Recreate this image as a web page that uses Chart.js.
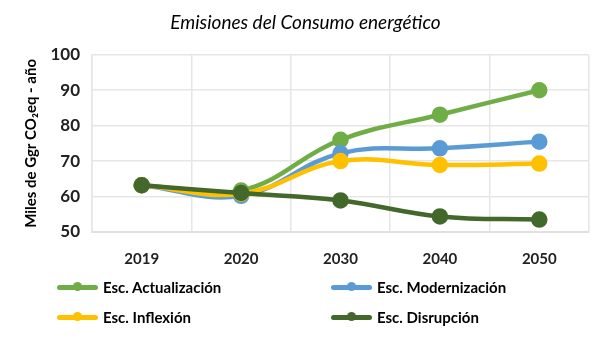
<!DOCTYPE html>
<html>
<head>
<meta charset="utf-8">
<script src="https://cdn.jsdelivr.net/npm/chart.js@4"></script>
<style>
  body { margin: 0; background: #fff; }
  #wrap { position: relative; width: 604px; height: 350px; }
  #legend {
    position: absolute; left: 57px; top: 277px; width: 540px;
    display: grid; grid-template-columns: 274px 260px; row-gap: 10px;
    font-family: Lato, "Liberation Sans", sans-serif; font-weight: bold; font-size: 15px; color: #000;
  }
  .item { display: flex; align-items: center; height: 20px; }
  .mark { position: relative; width: 41px; height: 10px; margin-right: 5px; }
  .mark .ln { position: absolute; left: 0; right: 0; top: 2.5px; height: 5px; border-radius: 2.5px; }
  .mark .dt { position: absolute; left: 16px; top: 0; width: 9px; height: 9px; border-radius: 50%; }
</style>
</head>
<body>
<div id="wrap">
  <canvas id="emisiones" width="604" height="350"></canvas>
  <div id="legend"></div>
</div>
<script>
var years = ["2019", "2020", "2030", "2040", "2050"];
var actualizacion = [63.2, 61.7, 76.0, 83.1, 90.0];
var modernizacion = [63.2, 60.2, 72.2, 73.6, 75.5];
var inflexion = [63.2, 60.8, 70.0, 68.9, 69.3];
var disrupcion = [63.2, 61.0, 58.9, 54.4, 53.5];

var series = [
    { label: "Esc. Actualización", data: actualizacion, color: "#70ad47", order: 4 },
    { label: "Esc. Modernización", data: modernizacion, color: "#5b9bd5", order: 3 },
    { label: "Esc. Inflexión", data: inflexion, color: "#ffc000", order: 2 },
    { label: "Esc. Disrupción", data: disrupcion, color: "#43682b", order: 1 }
];

var fontFam = "Lato, 'Liberation Sans', sans-serif";

new Chart("emisiones", {
    type: "line",
    data: {
        labels: years,
        datasets: series.map(function (s) {
            return {
                label: s.label,
                data: s.data,
                borderColor: s.color,
                backgroundColor: s.color,
                borderWidth: 4.5,
                pointRadius: 6,
                pointHoverRadius: 6,
                fill: false,
                tension: 0.4,
                order: s.order
            };
        })
    },
    options: {
        responsive: false,
        animation: false,
        layout: {
            padding: { top: 0, right: 15, bottom: 78, left: 22 }
        },
        plugins: {
            legend: { display: false },
            tooltip: { enabled: false },
            title: {
                display: true,
                text: "Emisiones del Consumo energético",
                color: "#000",
                font: { family: fontFam, size: 19, style: "italic", weight: "normal" },
                padding: { top: 11, bottom: 21 }
            }
        },
        scales: {
            x: {
                offset: true,
                grid: { offset: true, color: "#e6e6e6", lineWidth: 1.5, drawTicks: false },
                border: { color: "#e0e0e0", width: 2 },
                ticks: {
                    color: "#222",
                    padding: 18,
                    font: { family: fontFam, size: 15, weight: "bold" }
                },
                afterFit: function (scale) { scale.height = 40; }
            },
            y: {
                min: 50,
                max: 100,
                grid: { color: "#e6e6e6", lineWidth: 1.5, drawTicks: false },
                border: { color: "#e6e6e6", width: 1.5 },
                ticks: {
                    stepSize: 10,
                    color: "#222",
                    padding: 12,
                    font: { family: fontFam, size: 17, weight: "bold" }
                },
                title: {
                    display: true,
                    text: "Miles de Ggr CO₂eq - año",
                    color: "#000",
                    font: { family: fontFam, size: 15, weight: "bold" },
                    padding: { top: 0, bottom: 8 }
                },
                afterFit: function (scale) { scale.width = 70; }
            }
        }
    }
});

var legend = document.getElementById("legend");
series.forEach(function (s) {
    var item = document.createElement("div");
    item.className = "item";
    item.innerHTML = '<span class="mark"><span class="ln" style="background:' + s.color +
        '"></span><span class="dt" style="background:' + s.color + '"></span></span>' +
        '<span>' + s.label + '</span>';
    legend.appendChild(item);
});
</script>
</body>
</html>
